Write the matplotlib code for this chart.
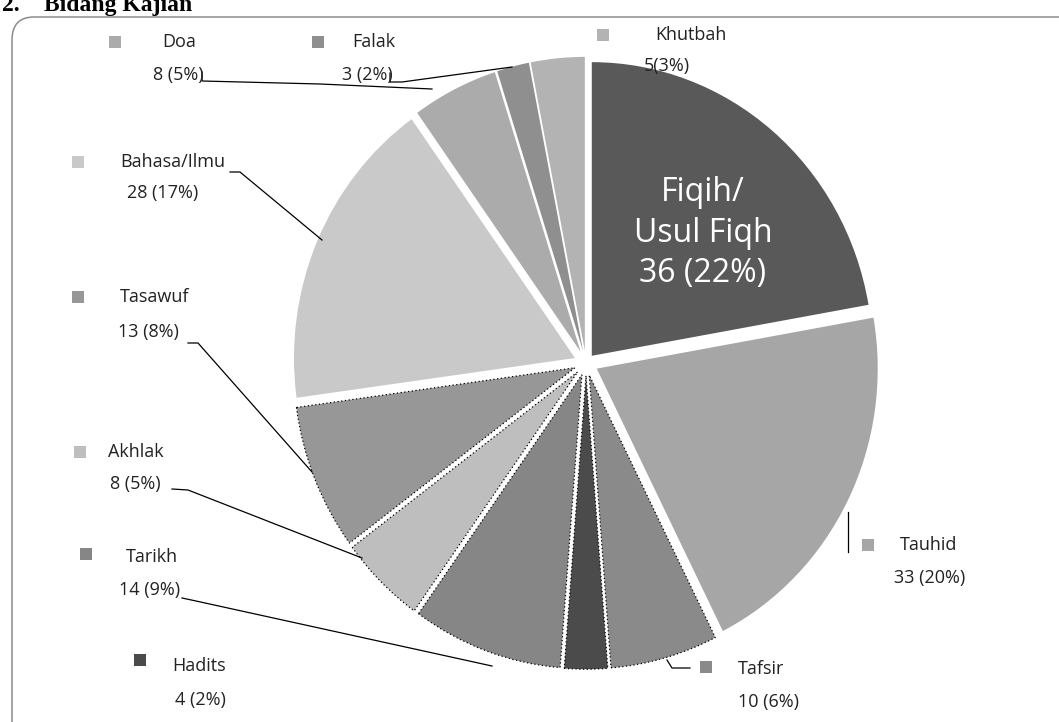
import matplotlib
matplotlib.use('Agg')
import matplotlib.pyplot as plt
from matplotlib.patches import Rectangle, FancyBboxPatch
from matplotlib import font_manager

W, H = 1059, 722
S = 1.045  # vertical stretch of the pie

names = ['Fiqih/\nUsul Fiqh', 'Tauhid', 'Tafsir', 'Hadits', 'Tarikh', 'Akhlak',
         'Tasawuf', 'Bahasa/Ilmu', 'Doa', 'Falak', 'Khutbah']
counts = [36, 33, 10, 4, 14, 8, 13, 28, 8, 3, 5]
pcts = [22, 20, 6, 2, 9, 5, 8, 17, 5, 2, 3]
colors = ['#595959', '#a6a6a6', '#8a8a8a', '#4b4b4b', '#868686', '#bebebe',
          '#979797', '#c9c9c9', '#ababab', '#8f8f8f', '#b3b3b3']

avail = {f.name for f in font_manager.fontManager.ttflist}
SANS = 'Liberation Sans Narrow' if 'Liberation Sans Narrow' in avail else 'Open Sans'


def P(px, py):
    return px, (H - py) / S


fig = plt.figure(figsize=(W / 100, H / 100), dpi=100)
ax = fig.add_axes([0, 0, 1, 1])

cx, cy = P(586, 363)
# explode is in data units here (pixels)
wedges, _ = ax.pie(counts, colors=colors, startangle=90, counterclock=False,
                   radius=281, center=(cx, cy), explode=[9] + [12] * (len(counts) - 1),
                   wedgeprops=dict(linewidth=0))
# dotted outlines on the lower slices
for w in wedges[2:7]:
    w.set_edgecolor('black')
    w.set_linewidth(0.9)
    w.set_linestyle((0, (1, 2)))

ax.set_xlim(0, W)
ax.set_ylim(0, H / S)
ax.set_aspect('auto')
ax.axis('off')

# chart border
bx, by = P(12, 760)
ax.add_patch(FancyBboxPatch((bx, by), 1100, (760 - 17) / S, boxstyle='round,pad=0,rounding_size=22',
                            fill=False, edgecolor='#8c8c8c', linewidth=1.1, clip_on=True))

# main slice label
tx, ty = P(703, 233)
ax.text(tx, ty, 'Fiqih/\nUsul Fiqh\n%d (%d%%)' % (counts[0], pcts[0]), color='white',
        fontsize=23, family=SANS, ha='center', va='center', linespacing=1.3)

# outside labels: square position, name position, value position
layout = {
    1: ((868, 545), (900, 545), (930, 578)),
    2: ((706, 667), (738, 669), (768, 702)),
    3: ((140, 660), (172, 666), (200, 700)),
    4: ((86, 554), (126, 557), (150, 590)),
    5: ((80, 452), (108, 452), (135, 484)),
    6: ((78, 297), (120, 297), (148, 332)),
    7: ((78, 162), (120, 162), (163, 193)),
    8: ((115, 42), (162, 42), (178, 75)),
    9: ((318, 42), (352, 42), (367, 75)),
    10: ((603, 35), (655, 35), (667, 66)),
}
for i, (sq, nm, vl) in layout.items():
    x0, y0 = P(sq[0] - 6, sq[1] + 6)
    ax.add_patch(Rectangle((x0, y0), 12, 12 / S, color=colors[i], linewidth=0))
    ax.text(*P(*nm), names[i], fontsize=13, family=SANS, ha='left', va='center', color='#222222')
    sep = '' if i == 10 else ' '
    ax.text(*P(*vl), '%d%s(%d%%)' % (counts[i], sep, pcts[i]), fontsize=13, family=SANS,
            ha='center', va='center', color='#222222')

leaders = [
    [(848, 512), (848, 552)],
    [(667, 660), (672, 668), (690, 668)],
    [(182, 598), (196, 601), (492, 666)],
    [(172, 489), (188, 490), (362, 558)],
    [(188, 343), (198, 343), (312, 472)],
    [(230, 172), (240, 172), (322, 240)],
    [(202, 72), (202, 81), (320, 84), (432, 89)],
    [(390, 73), (390, 82), (402, 82), (512, 67)],
]
for pts in leaders:
    xs, ys = zip(*[P(*p) for p in pts])
    ax.plot(xs, ys, color='black', linewidth=0.9)

fig.text(2 / W, 1 - 11 / H, '2.', fontsize=17, fontweight='bold', family='Liberation Serif',
         ha='left', va='baseline')
fig.text(44 / W, 1 - 11 / H, 'Bidang Kajian', fontsize=17, fontweight='bold',
         family='Liberation Serif', ha='left', va='baseline')

fig.savefig('out.png', dpi=100)
